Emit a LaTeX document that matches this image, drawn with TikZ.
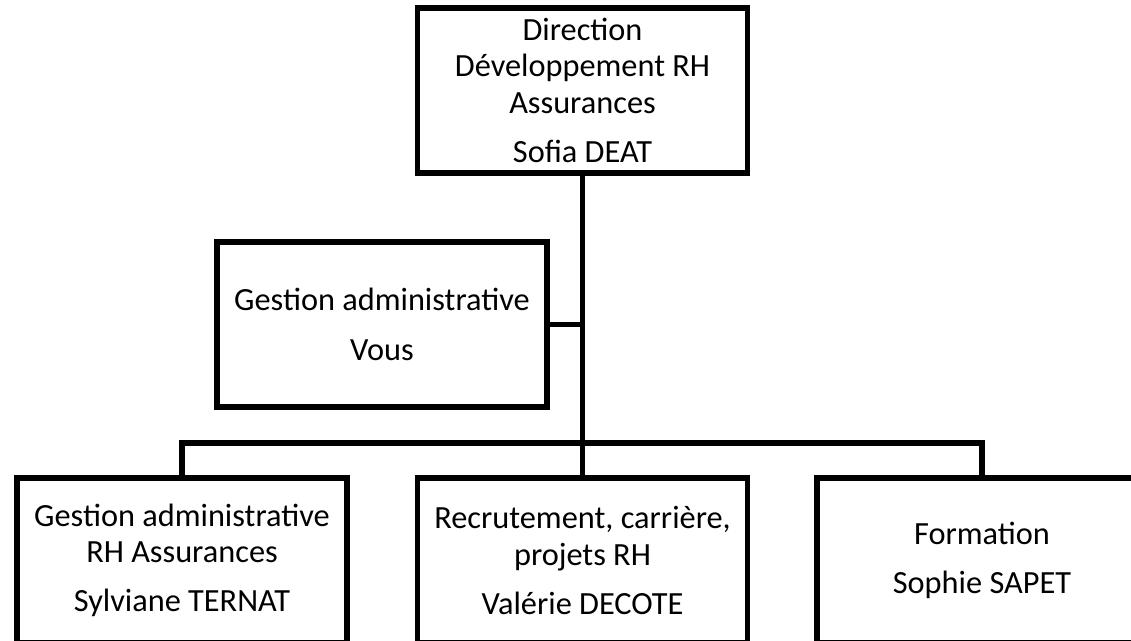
\documentclass[tikz,border=0pt]{standalone}
\usepackage{fontspec}
\setmainfont{Carlito}
\begin{document}
\begin{tikzpicture}[line cap=rect,
	box/.style={draw,line width=3.8pt,minimum width=8.25cm,minimum height=4.125cm,align=center,inner sep=0pt,font=\fontsize{23}{26}\selectfont},
	link/.style={line width=3.8pt}]
	\useasboundingbox (0,0) rectangle (28.275,16.025);
	\clip (0,0) rectangle (28.275,16.025);
	% top
	\node[box] (dir) at (14.5625,13.7625) {Direction\\Développement RH\\Assurances\\[9pt]Sofia DEAT};
	\node[box] (gest) at (9.55,7.9125) {Gestion administrative\\[9pt]Vous};
	% bottom row
	\node[box] (ternat) at (4.55,2.0125) {Gestion administrative\\RH Assurances\\[9pt]Sylviane TERNAT};
	\node[box] (decote) at (14.5625,2.0125) {Recrutement, carrière,\\projets RH\\[9pt]Valérie DECOTE};
	\node[box] (sapet) at (24.55,2.0125) {Formation\\[9pt]Sophie SAPET};
	\coordinate (bus) at (14.5625,4.95);
	% links
	\draw[link] (dir.south) -- (bus);
	\draw[link] (gest.east) -- (gest.east -| dir.south);
	\draw[link] (ternat.north) -- (ternat.north |- bus) -- (sapet.north |- bus) -- (sapet.north);
	\draw[link] (bus) -- (decote.north);
\end{tikzpicture}
\end{document}
